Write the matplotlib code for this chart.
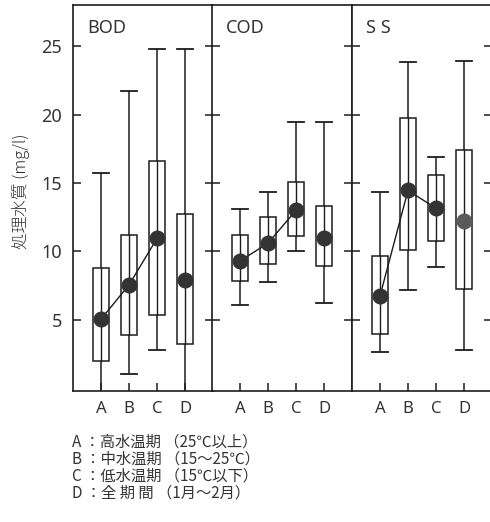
import matplotlib
matplotlib.use('Agg')
import matplotlib.pyplot as plt

plt.rcParams['font.family'] = ['Noto Sans CJK JP', 'DejaVu Sans']

periods = ['A', 'B', 'C', 'D']
panel_names = ['BOD', 'COD', 'S S']
y_ticks = [5, 10, 15, 20, 25]

# BOD
bod_min = [-0.5, 1.05, 2.8, -0.5]
bod_q1 = [2.0, 3.9, 5.35, 3.2]
bod_mean = [5.05, 7.55, 10.95, 7.9]
bod_q3 = [8.8, 11.2, 16.6, 12.7]
bod_max = [15.7, 21.7, 24.8, 24.8]

# COD
cod_min = [6.1, 7.75, 10.0, 6.25]
cod_q1 = [7.85, 9.1, 11.15, 8.9]
cod_mean = [9.3, 10.6, 13.0, 11.0]
cod_q3 = [11.2, 12.5, 15.1, 13.3]
cod_max = [13.1, 14.35, 19.45, 19.45]

# SS
ss_min = [2.65, 7.15, 8.85, 2.8]
ss_q1 = [4.0, 10.1, 10.75, 7.25]
ss_mean = [6.75, 14.45, 13.15, 12.25]
ss_q3 = [9.65, 19.75, 15.55, 17.4]
ss_max = [14.35, 23.8, 16.9, 23.9]

series = [
    (bod_min, bod_q1, bod_mean, bod_q3, bod_max),
    (cod_min, cod_q1, cod_mean, cod_q3, cod_max),
    (ss_min, ss_q1, ss_mean, ss_q3, ss_max),
]

legend_lines = [
    'A ：高水温期 （25℃以上）',
    'B ：中水温期 （15～25℃）',
    'C ：低水温期 （15℃以下）',
    'D ：全 期 間 （1月～2月）',
]

W, H = 490, 522
fig = plt.figure(figsize=(W / 100, H / 100), dpi=100)
fig.patch.set_facecolor('white')

ink = '#1c1c1c'
txt = '#333333'
left_px = [73, 212, 352]
width_px = 140
top_px, bottom_px = 5, 391

xs = list(range(1, len(periods) + 1))
box_w = 0.55
cap_w = 0.55

for i, (mn, q1, mean, q3, mx) in enumerate(series):
    ax = fig.add_axes([left_px[i] / W, 1 - bottom_px / H,
                       width_px / W, (bottom_px - top_px) / H])
    ax.set_xlim(0.0, 5.0)
    ax.set_ylim(-0.2, 28.0)
    for sp in ax.spines.values():
        sp.set_color(ink)
        sp.set_linewidth(1.2)
    for j, x in enumerate(xs):
        ax.plot([x, x], [mn[j], mx[j]], color=ink, lw=1.1, zorder=2,
                solid_capstyle='butt')
        ax.plot([x - cap_w / 2, x + cap_w / 2], [mx[j], mx[j]], color=ink,
                lw=1.3, zorder=2)
        ax.plot([x - cap_w / 2, x + cap_w / 2], [mn[j], mn[j]], color=ink,
                lw=1.3, zorder=2)
        rect = plt.Rectangle((x - box_w / 2, q1[j]), box_w, q3[j] - q1[j],
                             facecolor='white', edgecolor=ink, lw=1.1,
                             zorder=3)
        ax.add_patch(rect)
        ax.plot([x, x], [q1[j], q3[j]], color=ink, lw=1.0, zorder=3.5)
    ax.plot(xs[:3], mean[:3], color=ink, lw=1.0, zorder=4)
    ax.plot(xs[:3], mean[:3], 'o', color='#333333', ms=10.5, mec='#333333',
            zorder=5)
    dcol = '#5a5a5a' if i == 2 else '#333333'
    ax.plot([xs[3]], [mean[3]], 'o', color=dcol, ms=10.5, mec=dcol, zorder=5)

    ax.set_yticks(y_ticks)
    ax.set_xticks(xs)
    ax.set_xticklabels(periods)
    ax.tick_params(axis='y', direction='in', length=6, width=1.1,
                   left=True, right=True, color=ink)
    ax.tick_params(axis='x', direction='in', length=6, width=1.1,
                   color=ink, pad=7, labelsize=12, labelcolor=txt)
    for lab in ax.get_xticklabels():
        lab.set_fontfamily(['Noto Sans', 'DejaVu Sans'])
        lab.set_fontweight('light')
    if i == 0:
        ax.tick_params(axis='y', labelleft=True, labelsize=13, pad=8,
                       labelcolor=txt)
        for lab in ax.get_yticklabels():
            lab.set_fontfamily(['Noto Sans', 'DejaVu Sans'])
            lab.set_fontweight('light')
        ax.set_ylabel('処理水質 (mg/l)', fontsize=12, color=txt,
                      fontweight='light')
        ax.yaxis.set_label_coords(-0.307, 0.518)
    else:
        ax.tick_params(axis='y', labelleft=False)
    ax.text(0.1, 0.94, panel_names[i], transform=ax.transAxes,
            fontsize=13, color=txt, ha='left', va='center',
            family=['Noto Sans', 'DejaVu Sans'], fontweight='light')

legend_y_px = [442, 459, 476, 493]
for line, ypx in zip(legend_lines, legend_y_px):
    fig.text(72 / W, 1 - ypx / H, line, fontsize=11, color=txt,
             ha='left', va='center')

fig.savefig('out.png', dpi=100, facecolor='white')
